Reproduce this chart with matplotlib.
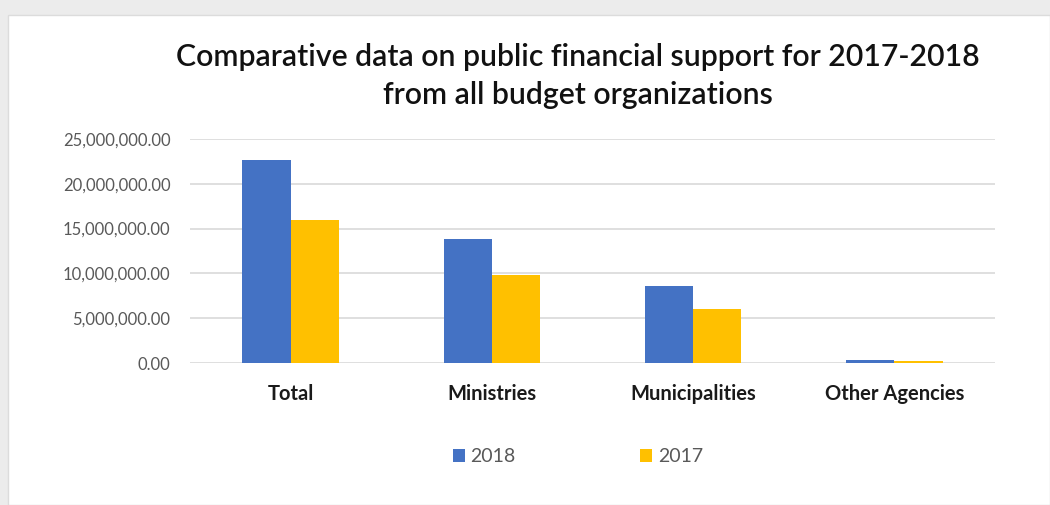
import numpy as np
import matplotlib
matplotlib.use("Agg")
import matplotlib.pyplot as plt
from matplotlib.patches import Rectangle
from matplotlib.ticker import FuncFormatter

# data
categories = ["Total", "Ministries", "Municipalities", "Other Agencies"]
values_2018 = [22650000, 13850000, 8600000, 350000]
values_2017 = [15950000, 9820000, 6030000, 250000]
series_names = ["2018", "2017"]
yticks = [0, 5000000, 10000000, 15000000, 20000000, 25000000]

blue = "#4472C4"
yellow = "#FFC000"

plt.rcParams["font.family"] = ["Lato", "DejaVu Sans"]

fig = plt.figure(figsize=(10.5, 5.05), dpi=100)
fig.patch.set_facecolor("#ececec")
# white chart card with grey edge around it
fig.patches.append(Rectangle((8 / 1050, 0), 1 - 8 / 1050, 1 - 15 / 505,
                             transform=fig.transFigure, facecolor="white",
                             edgecolor="#dcdcdc", lw=1, zorder=-5))

ax = fig.add_axes([190 / 1050, 1 - 363 / 505, 805 / 1050, 224 / 505])
ax.set_zorder(2)
ax.set_facecolor("none")

x = np.arange(len(categories))
w = 0.24
ax.bar(x - w / 2, values_2018, w, color=blue, label=series_names[0], zorder=3)
ax.bar(x + w / 2, values_2017, w, color=yellow, label=series_names[1], zorder=3)

ax.set_xlim(-0.5, len(categories) - 0.5)
ax.set_ylim(0, 25000000)
ax.set_yticks(yticks)
ax.yaxis.set_major_formatter(FuncFormatter(lambda v, p: "{:,.2f}".format(v)))
ax.grid(axis="y", color="#d9d9d9", lw=1.2, zorder=0)
for s in ax.spines.values():
    s.set_visible(False)
ax.tick_params(axis="both", length=0)
ax.tick_params(axis="y", labelsize=12, labelcolor="#595959", pad=14)
ax.set_xticks(x)
ax.set_xticklabels(categories, fontsize=14.5, fontweight="bold", color="#1a1a1a")
ax.tick_params(axis="x", pad=15)

fig.text(578 / 1050, 1 - 57 / 505, "Comparative data on public financial support for 2017-2018",
         ha="center", va="center", fontsize=21.8, fontweight="semibold", color="#111111", zorder=3)
fig.text(578 / 1050, 1 - 95 / 505, "from all budget organizations",
         ha="center", va="center", fontsize=21.8, fontweight="semibold", color="#111111", zorder=3)

ax.legend(loc="center", bbox_to_anchor=(578 / 1050, 1 - 457 / 505),
          bbox_transform=fig.transFigure, ncol=2, frameon=False,
          fontsize=14, labelcolor="#595959", handlelength=0.6, handleheight=0.6,
          handletextpad=0.3, columnspacing=6.4)

fig.savefig("out.png", dpi=100)
